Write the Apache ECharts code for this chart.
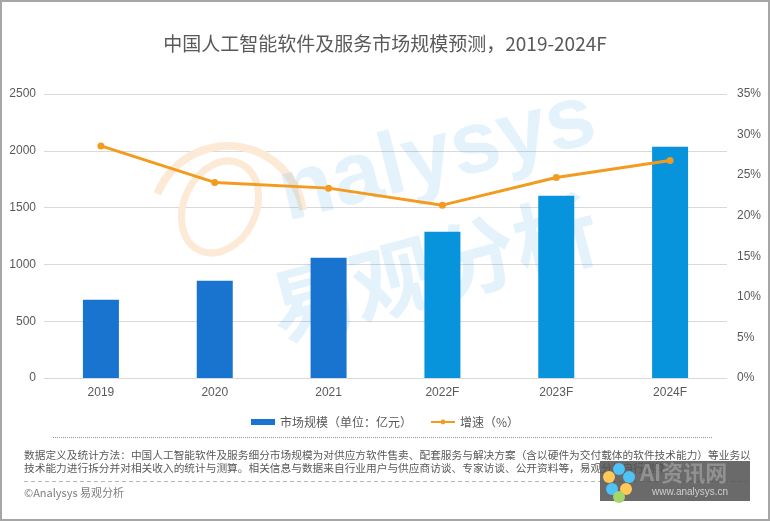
<!DOCTYPE html>
<html>
<head>
<meta charset="utf-8">
<script src="https://cdn.jsdelivr.net/npm/echarts@6/dist/echarts.min.js"></script>
<style>
html,body{margin:0;padding:0;background:#fff;}
#chart{width:770px;height:521px;}
</style>
</head>
<body>
<div id="chart"></div>
<script>
const categories = ['2019', '2020', '2021', '2022F', '2023F', '2024F'];
const marketSize = [688, 856, 1058, 1288, 1605, 2036];
const growthRate = [28.6, 24.1, 23.4, 21.3, 24.7, 26.8];
const forecastFlags = [false, false, false, true, true, true];
const leftTicks = { min: 0, max: 2500, interval: 500 };
const rightTicks = { min: 0, max: 35, interval: 5 };

const titleText = '中国人工智能软件及服务市场规模预测，2019-2024F';
const barName = '市场规模（单位：亿元）';
const lineName = '增速（%）';
const note1 = '数据定义及统计方法：中国人工智能软件及服务细分市场规模为对供应方软件售卖、配套服务与解决方案（含以硬件为交付载体的软件技术能力）等业务以';
const note2 = '技术能力进行拆分并对相关收入的统计与测算。相关信息与数据来自行业用户与供应商访谈、专家访谈、公开资料等，易观分析自行测算';
const copyright = '©Analysys 易观分析';

const DARK = '#1874CF';
const LIGHT = '#0894DD';
const ORANGE = '#F39B1E';
const TXT = '#595959';
const FONT = '"Liberation Sans", "Noto Sans CJK SC", sans-serif';
const CJK = '"Noto Sans CJK SC", sans-serif';

const chart = echarts.init(document.getElementById('chart'), null, { renderer: 'canvas' });

const barData = marketSize.map((v, i) => ({
  value: v,
  itemStyle: { color: forecastFlags[i] ? LIGHT : DARK }
}));

chart.setOption({
  backgroundColor: '#ffffff',
  animation: false,
  title: {
    text: titleText,
    left: 'center',
    top: 29,
    textStyle: { fontSize: 19, fontWeight: 'normal', color: TXT, fontFamily: CJK }
  },
  legend: {
    top: 411,
    left: 'center',
    itemGap: 18,
    textStyle: { fontSize: 12, color: TXT, fontFamily: CJK },
    data: [
      { name: barName, icon: 'rect', itemStyle: { color: DARK } },
      { name: lineName }
    ],
    itemWidth: 24,
    itemHeight: 6
  },
  grid: { left: 44, right: 43, top: 94, bottom: 143, containLabel: false },
  xAxis: {
    type: 'category',
    data: categories,
    axisLine: { lineStyle: { color: '#d9d9d9', width: 1 } },
    axisTick: { show: false },
    axisLabel: { color: TXT, fontSize: 12, fontFamily: FONT, margin: 9 }
  },
  yAxis: [
    {
      type: 'value',
      min: leftTicks.min, max: leftTicks.max, interval: leftTicks.interval,
      axisLine: { show: false },
      axisTick: { show: false },
      axisLabel: { color: TXT, fontSize: 12, fontFamily: FONT, margin: 8, formatter: v => String(v) },
      splitLine: { lineStyle: { color: '#d9d9d9', width: 1 } }
    },
    {
      type: 'value',
      min: rightTicks.min, max: rightTicks.max, interval: rightTicks.interval,
      position: 'right',
      axisLine: { show: false },
      axisTick: { show: false },
      axisLabel: { color: TXT, fontSize: 12, fontFamily: FONT, margin: 10, formatter: '{value}%' },
      splitLine: { show: false }
    }
  ],
  series: [
    {
      name: barName,
      type: 'bar',
      yAxisIndex: 0,
      barWidth: 36,
      itemStyle: { color: DARK },
      data: barData,
      z: 3
    },
    {
      name: lineName,
      type: 'line',
      yAxisIndex: 1,
      data: growthRate,
      symbol: 'circle',
      symbolSize: 7,
      lineStyle: { color: ORANGE, width: 3 },
      itemStyle: { color: ORANGE },
      z: 4
    }
  ],
  graphic: [
    // watermark
    {
      type: 'ellipse', z: 1, silent: true,
      x: 220, y: 207, rotation: -0.45,
      shape: { cx: 0, cy: 0, rx: 36, ry: 48 },
      style: { fill: 'none', stroke: '#FDEAD6', lineWidth: 7 }
    },
    {
      type: 'arc', z: 1, silent: true,
      x: 0, y: 0,
      shape: { cx: 228, cy: 222, r: 76, startAngle: Math.PI * 1.12, endAngle: Math.PI * 1.95 },
      style: { fill: 'none', stroke: '#FDEAD6', lineWidth: 8 }
    },
    {
      type: 'text', z: 1, silent: true,
      x: 292, y: 240, rotation: 0.25,
      style: { text: 'nalysys', fill: 'rgba(10,140,220,0.11)', font: 'bold 88px "Liberation Sans", sans-serif', textVerticalAlign: 'bottom' }
    },
    {
      type: 'text', z: 1, silent: true,
      x: 282, y: 352, rotation: 0.26,
      style: { text: '易观分析', fill: 'rgba(10,140,220,0.11)', font: 'bold 84px "Noto Sans CJK SC", sans-serif', textVerticalAlign: 'bottom' }
    },
    // separators
    {
      type: 'line', silent: true,
      shape: { x1: 53, y1: 437.5, x2: 712, y2: 437.5 },
      style: { stroke: '#9a9a9a', lineWidth: 1, lineDash: [1, 1] }
    },
    {
      type: 'text', silent: true,
      x: 24, y: 450,
      style: { text: note1, fill: TXT, font: '10.7px "Noto Sans CJK SC", sans-serif' }
    },
    {
      type: 'text', silent: true,
      x: 24, y: 463,
      style: { text: note2, fill: TXT, font: '10.7px "Noto Sans CJK SC", sans-serif' }
    },
    {
      type: 'line', silent: true,
      shape: { x1: 24, y1: 481.5, x2: 747, y2: 481.5 },
      style: { stroke: '#b5b5b5', lineWidth: 1, lineDash: [4, 3] }
    },
    {
      type: 'text', silent: true,
      x: 24, y: 487,
      style: { text: copyright, fill: '#7f7f7f', font: '11px "Noto Sans CJK SC", sans-serif' }
    },
    // overlay watermark box
    {
      type: 'rect', silent: true, z: 10,
      shape: { x: 600, y: 461, width: 150, height: 40 },
      style: { fill: 'rgba(80,80,80,0.85)' }
    },
    {
      type: 'text', silent: true, z: 11,
      x: 640, y: 462,
      style: { text: 'AI资讯网', fill: 'rgba(150,150,150,0.9)', font: 'bold 22px "Noto Sans CJK SC", sans-serif' }
    },
    {
      type: 'text', silent: true, z: 11,
      x: 652, y: 487,
      style: { text: 'www.analysys.cn', fill: '#cfcfcf', font: '10px "Liberation Sans", sans-serif' }
    },
    { type: 'circle', silent: true, z: 12, shape: { cx: 619, cy: 469, r: 6 }, style: { fill: '#4FC3F7' } },
    { type: 'circle', silent: true, z: 12, shape: { cx: 609, cy: 477, r: 6 }, style: { fill: '#FFC857' } },
    { type: 'circle', silent: true, z: 12, shape: { cx: 629, cy: 477, r: 6 }, style: { fill: '#4FC3F7' } },
    { type: 'circle', silent: true, z: 12, shape: { cx: 612, cy: 489, r: 6 }, style: { fill: '#4FC3F7' } },
    { type: 'circle', silent: true, z: 12, shape: { cx: 626, cy: 489, r: 6 }, style: { fill: '#FFC857' } },
    { type: 'circle', silent: true, z: 12, shape: { cx: 619, cy: 497, r: 6 }, style: { fill: '#A5D66B' } },
    // frame
    {
      type: 'rect', silent: true, z: 20,
      shape: { x: 1, y: 1, width: 768, height: 519 },
      style: { fill: 'none', stroke: '#a6a6a6', lineWidth: 2 }
    }
  ]
});
</script>
</body>
</html>
